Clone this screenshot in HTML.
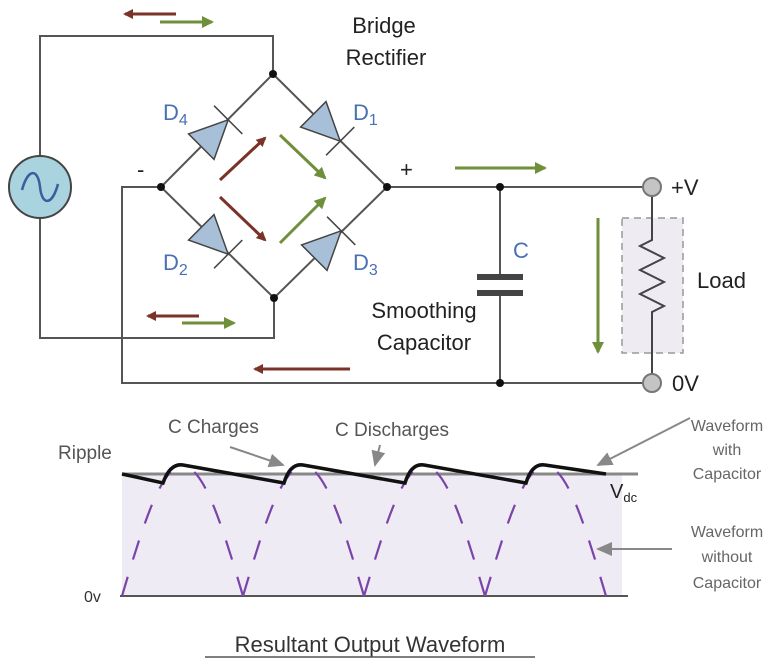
<!DOCTYPE html>
<html><head><meta charset="utf-8"><style>
body{margin:0;background:#fff}
svg{display:block}
text{font-family:"Liberation Sans",sans-serif}
</style></head><body>
<svg width="781" height="668" viewBox="0 0 781 668" xmlns="http://www.w3.org/2000/svg">
<defs>
<marker id="ar" markerWidth="10" markerHeight="10" refX="8" refY="5" orient="auto" markerUnits="userSpaceOnUse"><path d="M0,0 L10,5 L0,10z" fill="#7a3328"/></marker>
<marker id="ag" markerWidth="12" markerHeight="12" refX="10" refY="6" orient="auto" markerUnits="userSpaceOnUse"><path d="M0,0 L12,6 L0,12z" fill="#6f8f3a"/></marker>
<marker id="ay" markerWidth="16" markerHeight="14" refX="14" refY="7" orient="auto" markerUnits="userSpaceOnUse"><path d="M0,0 L16,7 L0,14z" fill="#888"/></marker>
</defs>
<g stroke="#555" stroke-width="2" fill="none">
<path d="M40,156 V36 H273 V74"/>
<path d="M40,218 V338 H274 V298"/>
<path d="M161,187 H122 V383 H652"/>
<path d="M387,187 H652"/>
<path d="M273,74 L387,187 L274,298 L161,187 Z"/>
<path d="M500,187 V278 M500,293 V383"/>
</g>
<rect x="622" y="218" width="61" height="135" fill="#eeebf2" stroke="#999" stroke-width="1.5" stroke-dasharray="7,5"/>
<path d="M652,196 V240 L640,246 L664,258 L640,270 L664,282 L640,294 L664,306 L652,312 V374" stroke="#444" stroke-width="2" fill="none"/>
<rect x="477" y="274" width="46" height="6" fill="#444"/>
<rect x="477" y="290" width="46" height="6" fill="#444"/>
<circle cx="40" cy="187" r="31" fill="#a9d3df" stroke="#444" stroke-width="2"/>
<path d="M22,190 C28,168 38,168 40,187 C42,206 52,206 58,184" stroke="#3a5f9a" stroke-width="2.5" fill="none"/>
<circle cx="652" cy="187" r="9" fill="#c4c4c4" stroke="#777" stroke-width="2"/>
<circle cx="652" cy="383" r="9" fill="#c4c4c4" stroke="#777" stroke-width="2"/>
<g fill="#111"><circle cx="273" cy="74" r="4"/><circle cx="161" cy="187" r="4"/><circle cx="387" cy="187" r="4"/><circle cx="274" cy="298" r="4"/><circle cx="500" cy="187" r="4"/><circle cx="500" cy="383" r="4"/></g>
<g transform="translate(161,187) rotate(-45)"><path d="M57,-18 L57,18 L95,0Z" fill="#a8bfd8" stroke="#444" stroke-width="1.5"/><path d="M95,-20 V20" stroke="#444" stroke-width="1.5"/></g>
<g transform="translate(161,187) rotate(45)"><path d="M57,-18 L57,18 L95,0Z" fill="#a8bfd8" stroke="#444" stroke-width="1.5"/><path d="M95,-20 V20" stroke="#444" stroke-width="1.5"/></g>
<g transform="translate(273,74) rotate(45)"><path d="M57,-18 L57,18 L95,0Z" fill="#a8bfd8" stroke="#444" stroke-width="1.5"/><path d="M95,-20 V20" stroke="#444" stroke-width="1.5"/></g>
<g transform="translate(274,298) rotate(-45)"><path d="M57,-18 L57,18 L95,0Z" fill="#a8bfd8" stroke="#444" stroke-width="1.5"/><path d="M95,-20 V20" stroke="#444" stroke-width="1.5"/></g>
<g stroke-width="3">
<line x1="176" y1="14" x2="125" y2="14" stroke="#7a3328" marker-end="url(#ar)"/>
<line x1="160" y1="22" x2="212" y2="22" stroke="#6f8f3a" marker-end="url(#ag)"/>
<line x1="199" y1="316" x2="148" y2="316" stroke="#7a3328" marker-end="url(#ar)"/>
<line x1="182" y1="323" x2="234" y2="323" stroke="#6f8f3a" marker-end="url(#ag)"/>
<line x1="350" y1="369" x2="255" y2="369" stroke="#7a3328" marker-end="url(#ar)"/>
<line x1="455" y1="168" x2="545" y2="168" stroke="#6f8f3a" marker-end="url(#ag)"/>
<line x1="598" y1="218" x2="598" y2="352" stroke="#6f8f3a" marker-end="url(#ag)"/>
<line x1="220" y1="180" x2="265" y2="138" stroke="#7a3328" marker-end="url(#ar)"/>
<line x1="220" y1="197" x2="265" y2="240" stroke="#7a3328" marker-end="url(#ar)"/>
<line x1="280" y1="135" x2="325" y2="178" stroke="#6f8f3a" marker-end="url(#ag)"/>
<line x1="280" y1="243" x2="325" y2="198" stroke="#6f8f3a" marker-end="url(#ag)"/>
</g>
<g font-size="22" fill="#222">
<text x="384" y="33" text-anchor="middle">Bridge</text>
<text x="386" y="65" text-anchor="middle">Rectifier</text>
<text x="424" y="318" text-anchor="middle">Smoothing</text>
<text x="424" y="350" text-anchor="middle">Capacitor</text>
<text x="671" y="195">+V</text>
<text x="672" y="391">0V</text>
<text x="697" y="288">Load</text>
<text x="137" y="177">-</text>
<text x="400" y="177">+</text>
</g>
<g font-size="22" fill="#4a6fb5">
<text x="163" y="120">D<tspan font-size="16" dy="5">4</tspan></text>
<text x="353" y="120">D<tspan font-size="16" dy="5">1</tspan></text>
<text x="163" y="270">D<tspan font-size="16" dy="5">2</tspan></text>
<text x="353" y="270">D<tspan font-size="16" dy="5">3</tspan></text>
<text x="513" y="258">C</text>
</g>
<rect x="122" y="474" width="500" height="122" fill="#efebf4"/>
<line x1="122" y1="474" x2="638" y2="474" stroke="#888" stroke-width="3"/>
<line x1="120" y1="596" x2="628" y2="596" stroke="#555" stroke-width="2"/>
<g stroke="#7a44a8" stroke-width="2.2" fill="none" stroke-dasharray="20,18">
<path d="M122,596 C142.2,528 160.7,466 182.5,466"/>
<path d="M243,596 C222.8,528 204.3,466 182.5,466"/>
<path d="M243,596 C263.2,528 281.7,466 303.5,466"/>
<path d="M364,596 C343.8,528 325.3,466 303.5,466"/>
<path d="M364,596 C384.2,528 402.7,466 424.5,466"/>
<path d="M485,596 C464.8,528 446.3,466 424.5,466"/>
<path d="M485,596 C505.2,528 523.7,466 545.5,466"/>
<path d="M606,596 C585.8,528 567.3,466 545.5,466"/>
</g>
<path d="M122,474 L163,483 Q170,463 183,465 L284,483 Q290,463 303,465 L405,483 Q411,463 424,465 L526,483 Q532,463 545,465 L606,474" stroke="#111" stroke-width="3.5" fill="none"/>
<g stroke="#888" stroke-width="2">
<line x1="230" y1="447" x2="283" y2="465" marker-end="url(#ay)"/>
<line x1="380" y1="445" x2="375" y2="465" marker-end="url(#ay)"/>
<line x1="690" y1="418" x2="598" y2="465" marker-end="url(#ay)"/>
<line x1="672" y1="549" x2="598" y2="549" marker-end="url(#ay)"/>
</g>
<g font-size="19" fill="#555">
<text x="58" y="459">Ripple</text>
<text x="168" y="433">C Charges</text>
<text x="335" y="436">C Discharges</text>
</g>
<g font-size="16" fill="#666" text-anchor="middle">
<text x="727" y="431">Waveform</text><text x="727" y="455">with</text><text x="727" y="479">Capacitor</text>
<text x="727" y="537">Waveform</text><text x="727" y="562">without</text><text x="727" y="588">Capacitor</text>
</g>
<text x="610" y="498" font-size="20" fill="#222">V<tspan font-size="13" dy="4">dc</tspan></text>
<text x="84" y="602" font-size="16" fill="#333">0v</text>
<text x="370" y="652" font-size="22" fill="#333" text-anchor="middle">Resultant Output Waveform</text>
<line x1="205" y1="657" x2="535" y2="657" stroke="#555" stroke-width="1.5"/>
</svg>
</body></html>
